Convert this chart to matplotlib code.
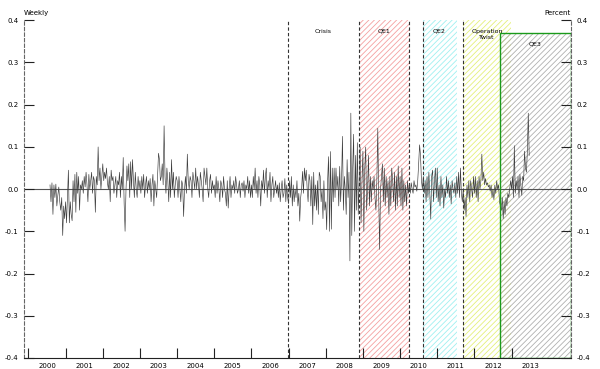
import matplotlib
matplotlib.use("Agg")
import matplotlib.pyplot as plt
from matplotlib.patches import Rectangle
import numpy as np

# weekly change, percent (~40 obs per year)
y2000 = [0.01, -0.03, 0.015, -0.06, 0.01, -0.02, 0.012, -0.04, -0.015, 0.005, -0.03, -0.05, -0.02, -0.11, -0.04, -0.07]
y2001 = [-0.03, -0.08, -0.02, 0.045, -0.08, -0.03, -0.06, -0.075, 0.02, -0.03, 0.035, -0.055, 0.04, -0.01, 0.03, -0.05,
         0.01, 0.0, 0.02, -0.01, 0.03, 0.005, 0.04, 0.01, -0.03, 0.035, 0.0, 0.02, 0.04, -0.01, 0.03, 0.02, -0.055, 0.03,
         0.01, 0.1, 0.02, 0.05, 0.0, 0.03]
y2002 = [0.06, 0.02, 0.04, 0.025, 0.05, 0.015, 0.0, 0.03, -0.03, 0.045, 0.02, 0.03, -0.01, 0.01, 0.03, -0.02, 0.02,
         0.01, 0.04, -0.02, 0.03, 0.0, 0.075, -0.035, -0.1, 0.0, 0.055, 0.02, 0.06, -0.02, 0.065, 0.0, 0.07, 0.02,
         -0.02, 0.04, 0.0, -0.02, 0.03, 0.0]
y2003 = [0.02, -0.01, 0.03, 0.0, 0.035, -0.02, 0.01, 0.03, -0.01, 0.02, 0.0, 0.025, -0.03, 0.01, 0.035, -0.04, 0.02,
         0.0, -0.02, 0.03, 0.085, 0.07, 0.02, 0.03, 0.06, 0.01, 0.15, 0.03, -0.01, 0.05, 0.02, -0.03, 0.04, -0.02,
         0.07, 0.0, 0.04, -0.02, 0.01, 0.03]
y2004 = [0.02, -0.02, 0.03, 0.0, -0.03, 0.02, 0.01, -0.065, 0.0, 0.03, -0.01, 0.083, 0.02, 0.0, 0.03, 0.02, -0.02,
         0.04, 0.02, 0.0, 0.05, 0.0, 0.03, 0.01, -0.02, 0.04, 0.02, 0.0, -0.03, 0.05, 0.03, 0.01, 0.05, 0.0, -0.02,
         0.02, 0.035, -0.01, 0.02, 0.0]
y2005 = [0.01, -0.02, 0.03, -0.01, 0.02, 0.0, -0.03, 0.02, 0.01, -0.02, 0.03, 0.0, -0.01, -0.04, 0.02, -0.045, 0.0,
         0.03, -0.02, 0.01, 0.0, 0.02, -0.01, 0.03, 0.01, -0.01, 0.0, 0.02, -0.02, 0.01, 0.015, -0.005, 0.02, -0.02,
         0.01, 0.0, 0.03, -0.01, 0.02, -0.02]
y2006 = [0.01, -0.02, 0.03, 0.0, 0.05, -0.01, 0.02, -0.02, 0.03, 0.01, -0.04, 0.02, 0.0, 0.045, -0.01, 0.03, 0.05,
         -0.02, 0.02, 0.0, 0.04, -0.03, 0.01, 0.03, -0.02, 0.0, 0.02, -0.01, 0.01, -0.02, 0.015, -0.03, 0.0, 0.02,
         -0.02, -0.01, 0.025, -0.03, 0.01, -0.02]
y2007 = [-0.035, 0.02, -0.02, 0.03, -0.04, 0.01, -0.03, 0.0, -0.02, 0.02, -0.04, -0.01, -0.076, -0.02, 0.0, 0.042,
         -0.01, 0.05, 0.02, 0.045, 0.0, -0.03, 0.035, 0.02, -0.04, 0.03, -0.084, 0.04, -0.04, 0.01, -0.05, 0.02,
         -0.06, 0.04, 0.03, -0.03, 0.0, -0.07, 0.02, -0.05]
y2008 = [-0.03, -0.096, 0.02, 0.077, -0.1, 0.089, -0.095, 0.05, -0.03, 0.05, -0.02, 0.05, 0.0, 0.03, -0.04, 0.054,
         -0.03, 0.02, 0.125, -0.05, 0.03, 0.0, -0.06, 0.07, -0.02, 0.04, -0.17, 0.18, -0.11, 0.05, 0.13, -0.1, 0.08,
         -0.05, 0.11, -0.06, 0.02, 0.1, -0.08, 0.02]
y2009 = [0.09, -0.1, 0.05, 0.1, -0.05, 0.0, 0.08, -0.04, 0.03, -0.03, 0.02, 0.0, 0.03, -0.02, -0.05, 0.02, 0.144,
         -0.02, -0.143, 0.0, 0.03, 0.06, -0.03, 0.05, -0.04, 0.03, -0.02, 0.02, -0.06, 0.03, -0.04, 0.05, 0.02, -0.03,
         0.04, -0.05, 0.03, -0.04, 0.055, -0.02]
y2010 = [0.03, -0.04, 0.05, -0.05, 0.02, -0.03, 0.01, -0.04, 0.02, -0.01, 0.01, -0.01, 0.015, 0.0, -0.01, 0.02,
         0.005, 0.01, -0.005, 0.02, 0.06, 0.105, 0.08, 0.02, 0.0, 0.03, -0.01, 0.02, -0.03, 0.03, -0.02, 0.04, -0.01,
         -0.071, 0.03, 0.045, -0.03, 0.02, 0.05, -0.02]
y2011 = [0.05, -0.03, 0.01, -0.04, 0.03, -0.02, 0.01, -0.045, 0.0, -0.02, 0.03, -0.01, 0.02, -0.02, 0.01, -0.035,
         0.02, 0.0, -0.01, 0.015, -0.02, 0.03, -0.01, 0.04, -0.02, 0.05, -0.01, -0.03, 0.0, -0.05, -0.02, -0.065,
         0.01, -0.02, 0.02, -0.03, 0.02, 0.0, -0.02, 0.03]
y2012 = [-0.01, 0.03, -0.02, 0.02, -0.03, 0.03, 0.0, 0.02, 0.083, 0.02, 0.04, 0.01, 0.025, 0.01, 0.015, 0.005, 0.01,
         -0.005, 0.01, -0.02, 0.0, -0.025, 0.01, -0.01, 0.02, 0.0, 0.01, -0.03, -0.04, -0.05, -0.02, -0.07, -0.03,
         -0.06, -0.02, -0.04, -0.01, -0.02, 0.0, 0.02]
y2013 = [0.0, 0.03, -0.02, 0.103, -0.01, 0.02, 0.0, 0.03, -0.02, 0.035, 0.01, -0.015, 0.03, 0.02, 0.09, 0.05, 0.04,
         0.09, 0.18, 0.08]

series = [y2000, y2001, y2002, y2003, y2004, y2005, y2006, y2007, y2008, y2009, y2010, y2011, y2012, y2013]
years = list(range(2000, 2014))
data_start, data_end = 2000.58, 2013.5

# events (fractional years)
crisis = 2006.98
qe1 = (2008.89, 2010.24)
qe2 = (2010.62, 2011.53)
twist = (2011.69, 2012.99)
qe3_start, qe3_top = 2012.69, 0.37

xmin, xmax = 1999.88, 2014.6

t, v = [], []
for yr, vals in zip(years, series):
    a = max(yr, data_start)
    b = min(yr + 1, data_end)
    t.append(np.linspace(a, b, len(vals), endpoint=False))
    v.append(vals)
t = np.concatenate(t)
v = np.concatenate(v)

plt.rcParams['hatch.linewidth'] = 0.6
fig = plt.figure(figsize=(6, 3.69), dpi=100)
ax = fig.add_axes([0.04, 0.03, 0.9117, 0.915])
ax.set_xlim(xmin, xmax)
ax.set_ylim(-0.4, 0.4)

# shaded programme periods
ax.axvspan(qe1[0], qe1[1], facecolor='none', edgecolor='#f4a0a0', hatch='//////', lw=0, zorder=0)
ax.axvspan(qe2[0], qe2[1], facecolor='none', edgecolor='#9ff0f0', hatch='//////', lw=0, zorder=0)
ax.axvspan(twist[0], twist[1], facecolor='none', edgecolor='#e4f07a', hatch='//////', lw=0, zorder=0)
ax.add_patch(Rectangle((qe3_start, -0.4), xmax - qe3_start, qe3_top + 0.4, facecolor='none',
                       edgecolor='#b0b0b0', hatch='//////', lw=0, zorder=0))
ax.add_patch(Rectangle((qe3_start, -0.4), xmax - qe3_start, qe3_top + 0.4, facecolor='none',
                       edgecolor='#1a9a1a', lw=1.0, zorder=3))

for xv in [crisis, qe1[0], qe1[1], qe2[0], twist[0]]:
    ax.axvline(xv, color='#333333', lw=0.8, ls=(0, (3, 2)), zorder=2)

ax.axhline(0, color='#555555', lw=0.8, zorder=1)
ax.plot(t, v, color='#3c3c3c', lw=0.45, zorder=2)

tk = dict(fontsize=4.5, ha='center', va='center')
ax.text(2007.93, 0.374, 'Crisis', **tk)
ax.text(2009.57, 0.374, 'QE1', **tk)
ax.text(2011.05, 0.374, 'QE2', **tk)
ax.text(2012.34, 0.366, 'Operation\nTwist', linespacing=1.1, **tk)
ax.text(2013.63, 0.343, 'QE3', **tk)

ax.text(0.0, 1.012, 'Weekly', transform=ax.transAxes, fontsize=5, ha='left', va='bottom')
ax.text(1.0, 1.012, 'Percent', transform=ax.transAxes, fontsize=5, ha='right', va='bottom')

# axes
yt = [-0.4, -0.3, -0.2, -0.1, 0.0, 0.1, 0.2, 0.3, 0.4]
ax.set_yticks(yt)
ax.set_yticklabels(['%.1f' % x if x != 0 else '0.0' for x in yt])
ax.tick_params(axis='y', which='both', direction='in', length=7, width=0.8, color='#222222',
               labelsize=5, left=True, right=True, labelleft=True, labelright=True, pad=4)
ax.set_xticks(years)
ax.set_xticklabels([])
ax.set_xticks([y + 0.5 for y in years], minor=True)
ax.set_xticklabels([str(y) for y in years], minor=True)
ax.tick_params(axis='x', which='major', direction='in', length=7, width=0.8, color='#222222')
ax.tick_params(axis='x', which='minor', length=0, labelsize=5, pad=4)

for side in ['left', 'right']:
    ax.spines[side].set_linestyle((0, (3, 2)))
    ax.spines[side].set_color('#666666')
    ax.spines[side].set_linewidth(0.8)
ax.spines['top'].set_visible(False)
ax.spines['bottom'].set_color('#222222')
ax.spines['bottom'].set_linewidth(0.8)

fig.savefig('out.png', dpi=100)
